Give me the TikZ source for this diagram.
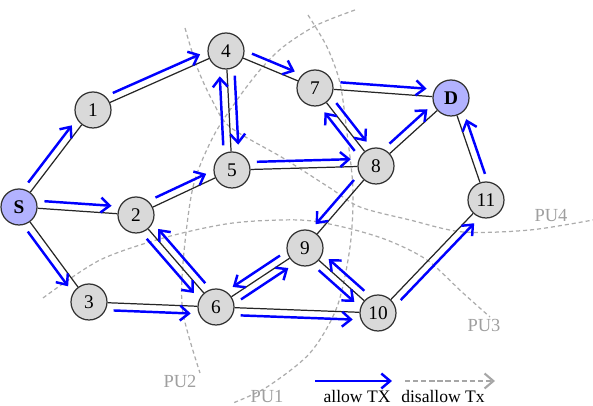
\documentclass[tikz,border=0pt]{standalone}
\usepackage{fontspec}
\setmainfont{Liberation Serif}
\usepackage{tikz}
\usetikzlibrary{arrows.meta, calc}
\tikzset{
  txarr/.style   = {-{Straight Barb[length=5pt, width=8.5pt]}, line width=1.4pt, draw=blue},
  noarr/.style   = {-{Straight Barb[length=5pt, width=8.5pt]}, line width=1.2pt, draw=gray!70, dash pattern=on 3pt off 1.6pt},
  link/.style    = {line width=0.7pt, draw=black!85},
  pubound/.style = {line width=0.7pt, draw=gray!65, dash pattern=on 2.3pt off 1.7pt},
  pulabel/.style = {text=gray!75, inner sep=0pt, font=\fontsize{10.5}{12}\selectfont},
  legtext/.style = {inner sep=0pt, font=\fontsize{10}{12}\selectfont},
  %% Node presets
  relay/.style   = {circle, draw=black!80, line width=0.7pt, fill=gray!30, minimum size=0.72cm, inner sep=0pt, font=\fontsize{11}{13}\selectfont},
  endpt/.style   = {relay, fill=blue!30, font=\fontsize{11}{13}\selectfont\bfseries},
}
%% allowed transmission drawn beside a link (left / right of travel)
\newcommand{\flowL}[2]{\draw[txarr] ($(#1)!0.5cm!(#2)!0.15cm!90:(#2)$) -- ($(#2)!0.5cm!(#1)!0.15cm!-90:(#1)$);}
\newcommand{\flowR}[2]{\draw[txarr] ($(#1)!0.5cm!(#2)!0.15cm!-90:(#2)$) -- ($(#2)!0.5cm!(#1)!0.15cm!90:(#1)$);}

\begin{document}
\begin{tikzpicture}[line width=0.7pt]
\useasboundingbox (0,0) rectangle (11.86,8.12);

%% ---- PU boundaries ----
\draw[pubound] plot[smooth] coordinates {(7.10,7.92) (6.34,7.62) (5.66,7.18) (5.20,6.72) (4.74,6.12)
  (4.26,5.38) (3.86,4.38) (3.66,2.86) (3.66,1.86) (4.00,0.66)};
\draw[pubound] plot[smooth] coordinates {(6.16,7.82) (6.54,7.18) (6.80,6.46) (6.94,5.46) (7.06,4.32)
  (7.00,3.18) (6.74,1.98) (6.20,1.06) (5.34,0.38) (4.66,0.06)};
\draw[pubound] plot[smooth] coordinates {(0.86,2.16) (2.00,2.92) (3.34,3.38) (4.66,3.66) (6.00,3.72)
  (6.86,3.58) (7.74,3.32) (8.54,2.92) (9.26,2.26) (9.80,1.78)};
\draw[pubound] plot[smooth] coordinates {(3.70,7.56) (3.94,6.78) (4.24,6.12) (4.60,5.58) (5.66,4.96)
  (6.60,4.36) (7.20,3.98) (8.20,3.72) (9.26,3.48) (10.60,3.52) (11.86,3.72)};

\node[pulabel] (pu1) at (5.34,0.19) {PU1};
\node[pulabel] (pu2) at (3.60,0.50) {PU2};
\node[pulabel] (pu3) at (9.68,1.62) {PU3};
\node[pulabel] (pu4) at (11.02,3.80) {PU4};

%% ---- Nodes ----
\node[endpt] (s)   at (0.38, 3.98) {S};
\node[relay] (n1)  at (1.86, 5.92) {1};
\node[relay] (n2)  at (2.72, 3.82) {2};
\node[relay] (n3)  at (1.78, 2.08) {3};
\node[relay] (n4)  at (4.52, 7.10) {4};
\node[relay] (n5)  at (4.64, 4.72) {5};
\node[relay] (n6)  at (4.32, 1.98) {6};
\node[relay] (n7)  at (6.30, 6.36) {7};
\node[relay] (n8)  at (7.52, 4.80) {8};
\node[relay] (n9)  at (6.10, 3.16) {9};
\node[relay] (n10) at (7.56, 1.86) {10};
\node[relay] (n11) at (9.72, 4.12) {11};
\node[endpt] (d)   at (9.02, 6.16) {D};

%% ---- Links ----
\draw[link] (s)   -- (n1);
\draw[link] (s)   -- (n2);
\draw[link] (s)   -- (n3);
\draw[link] (n1)  -- (n4);
\draw[link] (n2)  -- (n5);
\draw[link] (n2)  -- (n6);
\draw[link] (n3)  -- (n6);
\draw[link] (n4)  -- (n5);
\draw[link] (n4)  -- (n7);
\draw[link] (n5)  -- (n8);
\draw[link] (n6)  -- (n9);
\draw[link] (n6)  -- (n10);
\draw[link] (n7)  -- (d);
\draw[link] (n7)  -- (n8);
\draw[link] (n8)  -- (d);
\draw[link] (n8)  -- (n9);
\draw[link] (n9)  -- (n10);
\draw[link] (n10) -- (n11);
\draw[link] (n11) -- (d);

%% ---- Allowed transmissions ----
\flowL{s}{n1}   \flowL{s}{n2}   \flowR{s}{n3}
\flowL{n1}{n4}  \flowL{n2}{n5}
\flowL{n4}{n5}  \flowL{n5}{n4}
\flowL{n4}{n7}  \flowL{n7}{d}   \flowL{n5}{n8}
\flowL{n7}{n8}  \flowL{n8}{n7}  \flowL{n8}{d}
\flowR{n8}{n9}  \flowR{n11}{d}
\flowR{n2}{n6}  \flowR{n6}{n2}  \flowR{n3}{n6}
\flowR{n6}{n9}  \flowR{n9}{n6}  \flowR{n6}{n10}
\flowR{n9}{n10} \flowR{n10}{n9} \flowR{n10}{n11}

%% ---- Legend ----
\coordinate (allowA) at (6.30,0.50);
\coordinate (allowB) at (7.84,0.50);
\coordinate (disA)   at (8.10,0.50);
\coordinate (disB)   at (9.90,0.50);
\draw[txarr] (allowA) -- (allowB);
\draw[noarr] (disA) -- (disB);
\node[legtext] (allowtxt) at (7.14,0.19) {allow TX};
\node[legtext] (distxt)   at (8.86,0.19) {disallow Tx};

\end{tikzpicture}
\end{document}
